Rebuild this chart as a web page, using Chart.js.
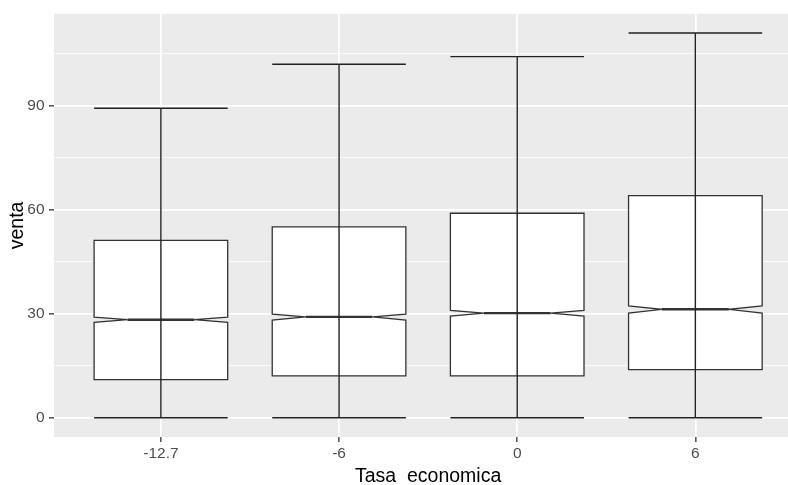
<!DOCTYPE html>
<html>
<head>
<meta charset="utf-8">
<script src="https://cdn.jsdelivr.net/npm/chart.js@4/dist/chart.umd.min.js"></script>
<style>
  html, body { margin: 0; padding: 0; background: #ffffff; overflow: hidden; }
  canvas { display: block; }
</style>
</head>
<body>
<canvas id="c" width="788" height="485"></canvas>
<script>
// Ventas por tasa económica: resumen de caja con muesca
const categories = ['-12.7', '-6', '0', '6'];
const ventaMin = [0, 0, 0, 0];
const ventaQ1 = [11.0, 12.1, 12.1, 13.9];
const ventaMedian = [28.3, 29.1, 30.2, 31.3];
const ventaQ3 = [51.2, 55.1, 59.0, 64.1];
const ventaMax = [89.3, 102.0, 104.2, 111.0];
const notchLower = [27.5, 28.2, 29.3, 30.2];
const notchUpper = [29.0, 29.9, 31.0, 32.3];

const yMajorTicks = [0, 30, 60, 90];
const yAllTicks = [0, 15, 30, 45, 60, 75, 90, 105];

const xTitle = 'Tasa  economica';
const yTitle = 'venta';

const FONT = '"Liberation Sans", Arial, sans-serif';
const PANEL_BG = '#EBEBEB';
const BOX_HALF = 0.375;

const isMajor = v => yMajorTicks.includes(v);

const boxPlugin = {
  id: 'notchedBoxes',
  beforeDraw(chart) {
    const { ctx, chartArea: a } = chart;
    ctx.save();
    ctx.fillStyle = PANEL_BG;
    ctx.fillRect(a.left, a.top, a.right - a.left, a.bottom - a.top);
    ctx.restore();
  },
  afterDatasetsDraw(chart) {
    const { ctx } = chart;
    const xs = chart.scales.x, ys = chart.scales.y;
    ctx.save();
    categories.forEach((_, i) => {
      const c = i + 1;
      const xl = xs.getPixelForValue(c - BOX_HALF);
      const xr = xs.getPixelForValue(c + BOX_HALF);
      const xc = xs.getPixelForValue(c);
      const inset = (xr - xl) * 0.25;
      const yq1 = ys.getPixelForValue(ventaQ1[i]);
      const yq3 = ys.getPixelForValue(ventaQ3[i]);
      const ymed = ys.getPixelForValue(ventaMedian[i]);
      const ynl = ys.getPixelForValue(notchLower[i]);
      const ynu = ys.getPixelForValue(notchUpper[i]);

      // notched box
      ctx.beginPath();
      ctx.moveTo(xl, yq3);
      ctx.lineTo(xl, ynu);
      ctx.lineTo(xl + inset, ymed);
      ctx.lineTo(xl, ynl);
      ctx.lineTo(xl, yq1);
      ctx.lineTo(xr, yq1);
      ctx.lineTo(xr, ynl);
      ctx.lineTo(xr - inset, ymed);
      ctx.lineTo(xr, ynu);
      ctx.lineTo(xr, yq3);
      ctx.closePath();
      ctx.fillStyle = '#ffffff';
      ctx.fill();
      ctx.lineWidth = 1.3;
      ctx.lineJoin = 'miter';
      ctx.strokeStyle = '#333333';
      ctx.stroke();

      // median
      ctx.beginPath();
      ctx.moveTo(xl + inset, ymed);
      ctx.lineTo(xr - inset, ymed);
      ctx.lineWidth = 2.4;
      ctx.stroke();

      // range bar with caps
      const ymin = ys.getPixelForValue(ventaMin[i]);
      const ymax = ys.getPixelForValue(ventaMax[i]);
      ctx.beginPath();
      ctx.moveTo(xc, ymin);
      ctx.lineTo(xc, ymax);
      ctx.moveTo(xl, ymin);
      ctx.lineTo(xr, ymin);
      ctx.moveTo(xl, ymax);
      ctx.lineTo(xr, ymax);
      ctx.lineWidth = 1.4;
      ctx.strokeStyle = '#222222';
      ctx.stroke();
    });
    ctx.restore();
  },
  afterDraw(chart) {
    const { ctx, chartArea: a } = chart;
    const xs = chart.scales.x;
    ctx.save();
    ctx.fillStyle = '#000000';
    ctx.font = '19.5px ' + FONT;
    ctx.textAlign = 'center';
    ctx.textBaseline = 'alphabetic';
    ctx.fillText(xTitle, xs.getPixelForValue(2.5), 481.5);
    ctx.translate(22.7, (a.top + a.bottom) / 2);
    ctx.rotate(-Math.PI / 2);
    ctx.fillText(yTitle, 0, 0);
    ctx.restore();
  }
};

new Chart(document.getElementById('c'), {
  type: 'scatter',
  data: { datasets: [] },
  plugins: [boxPlugin],
  options: {
    responsive: false,
    animation: false,
    events: [],
    layout: { padding: { top: 13, left: 0, right: 0, bottom: 0 } },
    plugins: { legend: { display: false }, tooltip: { enabled: false } },
    scales: {
      x: {
        type: 'linear',
        min: 0.4,
        max: 4.52,
        afterBuildTicks: s => { s.ticks = categories.map((_, i) => ({ value: i + 1 })); },
        afterFit: s => { s.height = 48; },
        border: { display: false },
        grid: {
          color: '#ffffff',
          lineWidth: 1.7,
          drawTicks: true,
          tickLength: 5,
          tickColor: '#333333',
          tickWidth: 1.3
        },
        ticks: {
          autoSkip: false,
          maxRotation: 0,
          padding: 2,
          color: '#4D4D4D',
          font: { family: FONT, size: 15.5 },
          callback: v => categories[Math.round(v) - 1] ?? ''
        }
      },
      y: {
        type: 'linear',
        min: -5.55,
        max: 116.55,
        afterBuildTicks: s => { s.ticks = yAllTicks.map(v => ({ value: v })); },
        afterFit: s => { s.width = 54; },
        border: { display: false },
        grid: {
          color: '#ffffff',
          lineWidth: ctx => (ctx.tick && isMajor(ctx.tick.value)) ? 1.7 : 0.85,
          drawTicks: true,
          tickLength: 5,
          tickColor: ctx => (ctx.tick && isMajor(ctx.tick.value)) ? '#333333' : 'rgba(0,0,0,0)',
          tickWidth: 1.3
        },
        ticks: {
          padding: 4.5,
          color: '#4D4D4D',
          font: { family: FONT, size: 15.5 },
          callback: v => isMajor(v) ? String(v) : ''
        }
      }
    }
  }
});
</script>
</body>
</html>
